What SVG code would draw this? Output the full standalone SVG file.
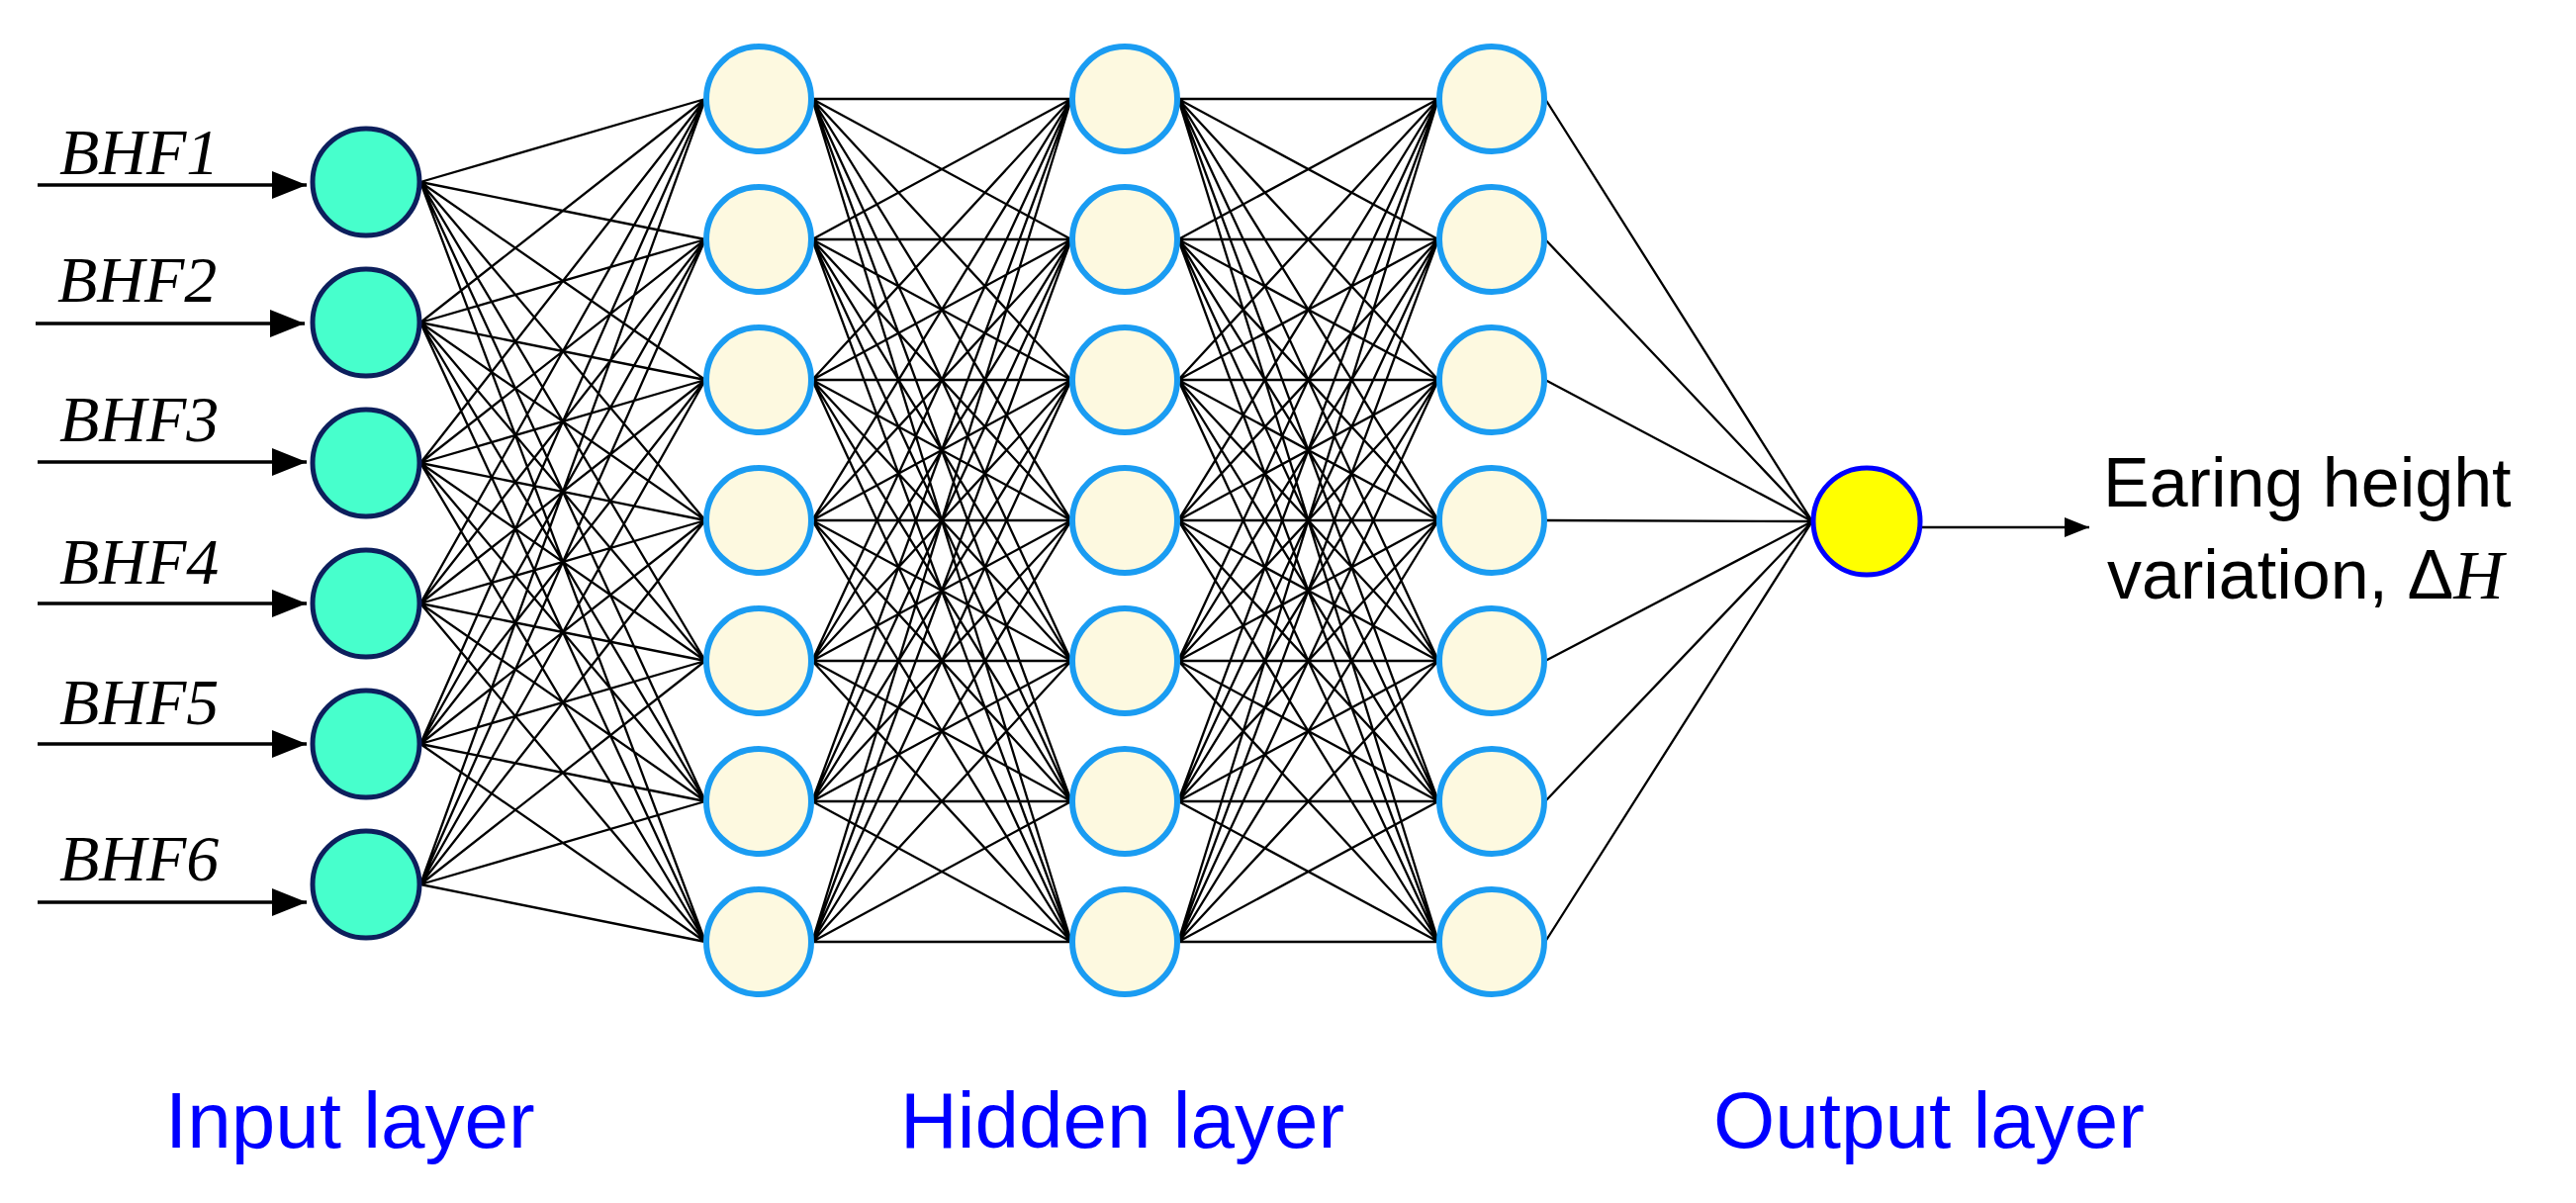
<svg xmlns="http://www.w3.org/2000/svg" width="2604" height="1216" viewBox="0 0 2604 1216">
<style>
.in{fill:#47ffcc;stroke:#0d1f5c;stroke-width:5}
.hd{fill:#fdf9e0;stroke:#1a9cf2;stroke-width:6}
.out{fill:#ffff00;stroke:#0000ff;stroke-width:5}
.e{stroke:#000;fill:none;stroke-width:2.3}
.lbl{font-family:"Liberation Serif",serif;font-style:italic;font-size:66px}
.txt{font-family:"Liberation Sans",Arial,sans-serif;font-size:70px;fill:#000}
.layer{font-family:"Liberation Sans",Arial,sans-serif;font-size:80px;fill:#0000ff}
</style>
<defs><marker id="ah" markerWidth="10" markerHeight="8" refX="10" refY="4" orient="auto" markerUnits="strokeWidth"><path d="M0 0L10 4L0 8Z" fill="#000"/></marker></defs>
<rect width="2604" height="1216" fill="#fff"/>
<g id="connectors">
<path class="e" d="M425 184L713 100M425 184L713 242M425 184L713 384M425 184L713 526M425 184L713 668M425 184L713 810M425 184L713 952M425 326L713 100M425 326L713 242M425 326L713 384M425 326L713 526M425 326L713 668M425 326L713 810M425 326L713 952M425 468L713 100M425 468L713 242M425 468L713 384M425 468L713 526M425 468L713 668M425 468L713 810M425 468L713 952M425 610L713 100M425 610L713 242M425 610L713 384M425 610L713 526M425 610L713 668M425 610L713 810M425 610L713 952M425 752L713 100M425 752L713 242M425 752L713 384M425 752L713 526M425 752L713 668M425 752L713 810M425 752L713 952M425 894L713 100M425 894L713 242M425 894L713 384M425 894L713 526M425 894L713 668M425 894L713 810M425 894L713 952"/>
<path class="e" d="M821 100L1083 100M821 100L1083 242M821 100L1083 384M821 100L1083 526M821 100L1083 668M821 100L1083 810M821 100L1083 952M821 242L1083 100M821 242L1083 242M821 242L1083 384M821 242L1083 526M821 242L1083 668M821 242L1083 810M821 242L1083 952M821 384L1083 100M821 384L1083 242M821 384L1083 384M821 384L1083 526M821 384L1083 668M821 384L1083 810M821 384L1083 952M821 526L1083 100M821 526L1083 242M821 526L1083 384M821 526L1083 526M821 526L1083 668M821 526L1083 810M821 526L1083 952M821 668L1083 100M821 668L1083 242M821 668L1083 384M821 668L1083 526M821 668L1083 668M821 668L1083 810M821 668L1083 952M821 810L1083 100M821 810L1083 242M821 810L1083 384M821 810L1083 526M821 810L1083 668M821 810L1083 810M821 810L1083 952M821 952L1083 100M821 952L1083 242M821 952L1083 384M821 952L1083 526M821 952L1083 668M821 952L1083 810M821 952L1083 952"/>
<path class="e" d="M1191 100L1454 100M1191 100L1454 242M1191 100L1454 384M1191 100L1454 526M1191 100L1454 668M1191 100L1454 810M1191 100L1454 952M1191 242L1454 100M1191 242L1454 242M1191 242L1454 384M1191 242L1454 526M1191 242L1454 668M1191 242L1454 810M1191 242L1454 952M1191 384L1454 100M1191 384L1454 242M1191 384L1454 384M1191 384L1454 526M1191 384L1454 668M1191 384L1454 810M1191 384L1454 952M1191 526L1454 100M1191 526L1454 242M1191 526L1454 384M1191 526L1454 526M1191 526L1454 668M1191 526L1454 810M1191 526L1454 952M1191 668L1454 100M1191 668L1454 242M1191 668L1454 384M1191 668L1454 526M1191 668L1454 668M1191 668L1454 810M1191 668L1454 952M1191 810L1454 100M1191 810L1454 242M1191 810L1454 384M1191 810L1454 526M1191 810L1454 668M1191 810L1454 810M1191 810L1454 952M1191 952L1454 100M1191 952L1454 242M1191 952L1454 384M1191 952L1454 526M1191 952L1454 668M1191 952L1454 810M1191 952L1454 952"/>
<path class="e" d="M1562 100L1832 527M1562 242L1832 527M1562 384L1832 527M1562 526L1832 527M1562 668L1832 527M1562 810L1832 527M1562 952L1832 527"/>
<g stroke="#000" stroke-width="3.5" marker-end="url(#ah)">
<line x1="38" y1="187" x2="310" y2="187"/>
<line x1="36" y1="327" x2="308" y2="327"/>
<line x1="38" y1="467" x2="310" y2="467"/>
<line x1="38" y1="610" x2="310" y2="610"/>
<line x1="38" y1="752" x2="310" y2="752"/>
<line x1="38" y1="912" x2="310" y2="912"/>
</g>
<line x1="1942" y1="533" x2="2112" y2="533" stroke="#000" stroke-width="2.5" marker-end="url(#ah)"/>
</g>
<g id="input-nodes">
<g id="in1"><circle class="in" cx="370" cy="184" r="54"/><text class="lbl" x="60" y="176">BHF1</text></g>
<g id="in2"><circle class="in" cx="370" cy="326" r="54"/><text class="lbl" x="58" y="305">BHF2</text></g>
<g id="in3"><circle class="in" cx="370" cy="468" r="54"/><text class="lbl" x="60" y="446">BHF3</text></g>
<g id="in4"><circle class="in" cx="370" cy="610" r="54"/><text class="lbl" x="60" y="590">BHF4</text></g>
<g id="in5"><circle class="in" cx="370" cy="752" r="54"/><text class="lbl" x="60" y="732">BHF5</text></g>
<g id="in6"><circle class="in" cx="370" cy="894" r="54"/><text class="lbl" x="60" y="890">BHF6</text></g>
</g>
<g id="hidden1">
<circle class="hd" cx="767" cy="100" r="53"/><circle class="hd" cx="767" cy="242" r="53"/><circle class="hd" cx="767" cy="384" r="53"/><circle class="hd" cx="767" cy="526" r="53"/><circle class="hd" cx="767" cy="668" r="53"/><circle class="hd" cx="767" cy="810" r="53"/><circle class="hd" cx="767" cy="952" r="53"/>
</g>
<g id="hidden2">
<circle class="hd" cx="1137" cy="100" r="53"/><circle class="hd" cx="1137" cy="242" r="53"/><circle class="hd" cx="1137" cy="384" r="53"/><circle class="hd" cx="1137" cy="526" r="53"/><circle class="hd" cx="1137" cy="668" r="53"/><circle class="hd" cx="1137" cy="810" r="53"/><circle class="hd" cx="1137" cy="952" r="53"/>
</g>
<g id="hidden3">
<circle class="hd" cx="1508" cy="100" r="53"/><circle class="hd" cx="1508" cy="242" r="53"/><circle class="hd" cx="1508" cy="384" r="53"/><circle class="hd" cx="1508" cy="526" r="53"/><circle class="hd" cx="1508" cy="668" r="53"/><circle class="hd" cx="1508" cy="810" r="53"/><circle class="hd" cx="1508" cy="952" r="53"/>
</g>
<g id="output">
<circle class="out" cx="1887" cy="527" r="54"/>
<text class="txt" x="2126" y="512">Earing height</text>
<text class="txt" x="2130" y="605">variation, Δ<tspan font-family="Liberation Serif,serif" font-style="italic">H</tspan></text>
</g>
<g id="layer-labels">
<text class="layer" x="167" y="1160">Input layer</text>
<text class="layer" x="910" y="1160">Hidden layer</text>
<text class="layer" x="1732" y="1160">Output layer</text>
</g>
</svg>
